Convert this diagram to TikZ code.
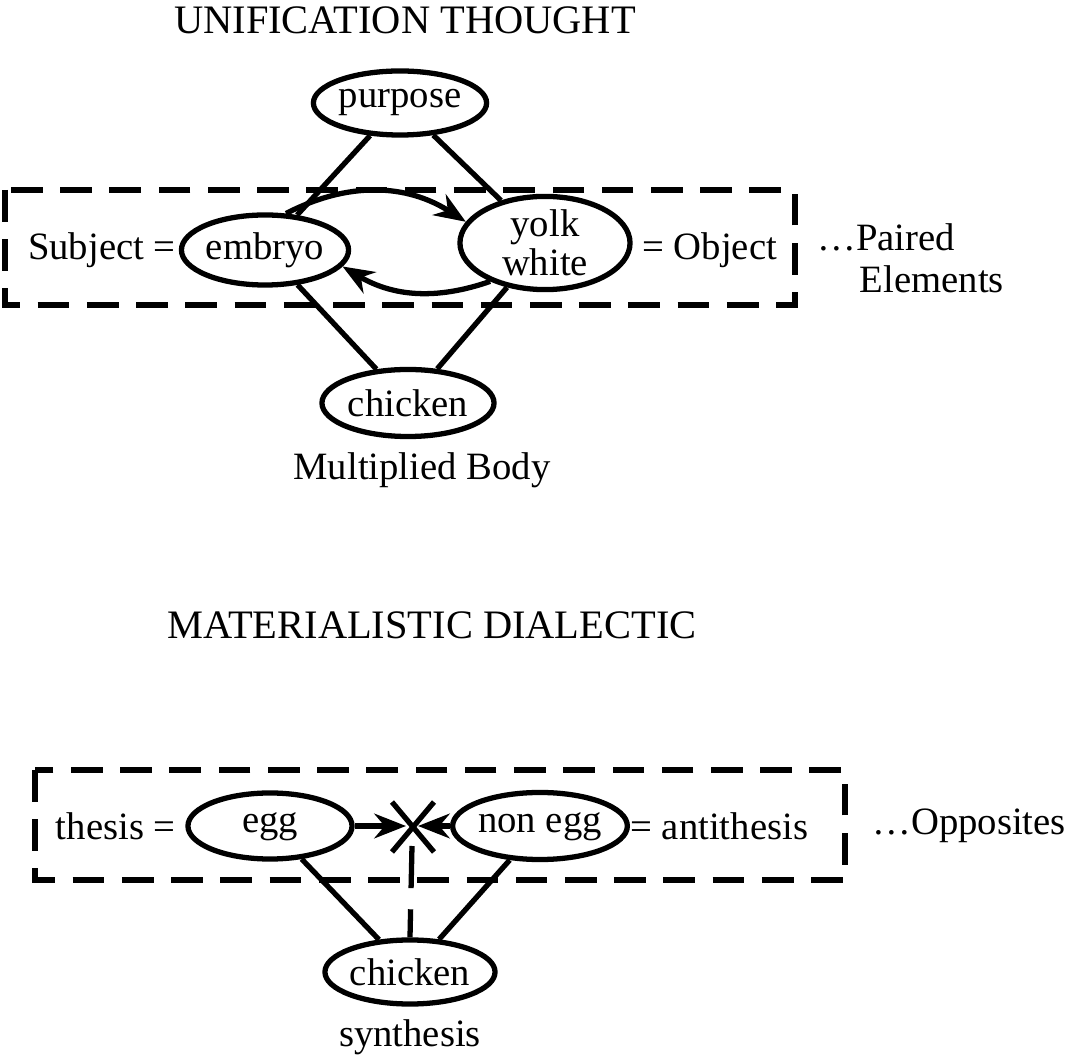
\documentclass[tikz,border=0pt]{standalone}
\usepackage{fontspec}
\setmainfont{Liberation Serif}
\usetikzlibrary{shapes.geometric,arrows.meta}
\tikzset{
  oval/.style={ellipse,draw,line width=1.5pt,minimum width=#1,minimum height=0.64cm,inner sep=0pt,font=\fontsize{11}{12}\selectfont,align=center},
  oval/.default=1.6cm,
  lab/.style={font=\fontsize{11}{12}\selectfont},
  ttl/.style={font=\fontsize{11.5}{13}\selectfont},
  frame/.style={draw,line width=1.5pt,dash pattern=on 9pt off 5pt},
  link/.style={line width=1.5pt},
  arr/.style={line width=1.5pt,-{Stealth[length=9pt,width=7pt]}}
}
\begin{document}
\begin{tikzpicture}[x=0.01cm,y=-0.01cm]
\useasboundingbox (0,0) rectangle (1069,1061);
% unification thought
\node[ttl] (t1) at (405,20) {UNIFICATION THOUGHT};
\draw[frame] (5,190) rectangle (795,305);
\node[oval=1.6cm] (purpose) at (400,103) {purpose};
\node[oval=1.55cm,minimum height=0.7cm] (embryo) at (265,250) {embryo};
\node[oval=1.7cm,minimum height=0.77cm] (yolk) at (545,243) {yolk\\[-1pt]white};
\node[oval=1.72cm,minimum height=0.67cm] (chicken1) at (408,403) {chicken};
\node[lab,anchor=east] (subj) at (188,250) {Subject =};
\node[lab,anchor=west] (obj) at (630,250) {= Object};
\node[lab,anchor=west,align=left] (paired) at (805,258) {\dots Paired\\\hspace{1.1em}Elements};
\node[lab] (body) at (422,470) {Multiplied Body};
\draw[link] (purpose) -- (embryo);
\draw[link] (purpose) -- (yolk);
\draw[link] (chicken1) -- (embryo);
\draw[link] (chicken1) -- (yolk);
\draw[arr] (embryo.60) to[bend left=30] (yolk.165);
\draw[arr] (yolk.215) to[bend left=25] (embryo.-12);
% materialistic dialectic
\node[ttl] (t2) at (432,625) {MATERIALISTIC DIALECTIC};
\draw[frame] (35,770) rectangle (845,880);
\node[oval=1.64cm,minimum height=0.66cm,text depth=2pt] (egg) at (270,826) {egg};
\node[oval=1.55cm,minimum height=0.67cm,text depth=2pt] (nonegg) at (540,826) {non egg};
\node[oval=1.67cm,minimum height=0.64cm] (chicken2) at (410,972) {chicken};
\node[lab,anchor=east] (thesis) at (188,826) {thesis =};
\node[lab,anchor=west] (anti) at (618,826) {= antithesis};
\node[lab,anchor=west] (opp) at (860,826) {\dots Opposites};
\node[lab] (syn) at (410,1037) {synthesis};
\coordinate (xl) at (406,826);
\coordinate (xr) at (418,826);
\draw[link] (392,802) -- (434,852);
\draw[link] (434,802) -- (392,852);
\draw[arr] (egg) -- (xl);
\draw[arr] (nonegg) -- (xr);
\draw[line width=1.5pt,dash pattern=on 12pt off 6pt] (412,846) -- (chicken2.north);
\draw[link] (egg) -- (chicken2);
\draw[link] (nonegg) -- (chicken2);
\end{tikzpicture}
\end{document}
